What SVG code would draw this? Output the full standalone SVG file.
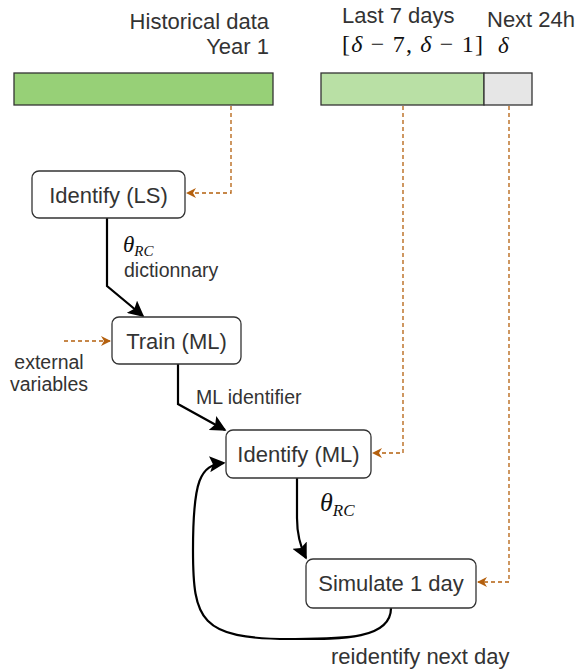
<svg xmlns="http://www.w3.org/2000/svg" width="579" height="671" viewBox="0 0 579 671">
<defs>
<style>
.t{font-family:"Liberation Sans",Arial,sans-serif;fill:#333;}
.m{font-family:"Liberation Serif","DejaVu Serif",serif;fill:#111;}
.box{fill:#fff;stroke:#333;stroke-width:1.3;}
.dash{fill:none;stroke:#B4600E;stroke-width:1.3;stroke-dasharray:4 3;}
.solid{fill:none;stroke:#000;stroke-width:2.2;}
</style>
<marker id="ob" viewBox="0 0 10 10" refX="9" refY="5" markerWidth="10" markerHeight="10" markerUnits="userSpaceOnUse" orient="auto"><path d="M0,0 L10,5 L0,10 L3,5 Z" fill="#B4600E"/></marker>
<marker id="bk" viewBox="0 0 10 10" refX="9" refY="5" markerWidth="16" markerHeight="16" markerUnits="userSpaceOnUse" orient="auto"><path d="M0,0 L10,5 L0,10 L2,5 Z" fill="#000"/></marker>
</defs>
<g id="labels-top">
<text class="t" x="269" y="29" font-size="22" text-anchor="end">Historical data</text>
<text class="t" x="269" y="54" font-size="22" text-anchor="end">Year 1</text>
<text class="t" x="342" y="23" font-size="22">Last 7 days</text>
<text class="t" x="487" y="27" font-size="22">Next 24h</text>
<text class="m" x="342" y="52" font-size="24" textLength="141" lengthAdjust="spacing">[<tspan font-style="italic">δ</tspan> − 7, <tspan font-style="italic">δ</tspan> − 1]</text>
<text class="m" x="498" y="53" font-size="23" font-style="italic">δ</text>
</g>
<g id="bar-historical"><rect x="14" y="73" width="259" height="32" fill="#97D077" stroke="#333" stroke-width="1.3"/></g>
<g id="bar-last7"><rect x="321" y="73" width="163" height="32" fill="#B9E0A5" stroke="#333" stroke-width="1.3"/></g>
<g id="bar-next24"><rect x="484" y="73" width="48" height="32" fill="#E6E6E6" stroke="#333" stroke-width="1.3"/></g>
<g id="connectors">
<path class="dash" d="M231,106 V193 H187" marker-end="url(#ob)"/>
<path class="dash" d="M64,341 H110" marker-end="url(#ob)"/>
<path class="dash" d="M403,106 V453 H373" marker-end="url(#ob)"/>
<path class="dash" d="M509,106 V582 H478" marker-end="url(#ob)"/>
<path class="solid" d="M107,218 V286 L143,316" marker-end="url(#bk)"/>
<path class="solid" d="M178,364 V404 L225,430" marker-end="url(#bk)"/>
<path class="solid" d="M297,478 V518 Q297,540 306,558" marker-end="url(#bk)"/>
<path class="solid" d="M391,608 C391,640 340,639 290,639 C200,639 193,620 193,550 C193,480 200,465 224,463" marker-end="url(#bk)"/>
<text class="m" x="123" y="252" font-size="23" font-style="italic">θ<tspan font-size="15" dy="4">RC</tspan></text>
<text class="t" x="124" y="277" font-size="19.5">dictionnary</text>
<text class="t" x="49" y="369" font-size="19.5" text-anchor="middle">external</text>
<text class="t" x="49" y="391" font-size="19.5" text-anchor="middle">variables</text>
<text class="t" x="196" y="404" font-size="19.5">ML identifier</text>
<text class="m" x="320" y="511" font-size="26" font-style="italic">θ<tspan font-size="17" dy="5">RC</tspan></text>
<text class="t" x="331" y="664" font-size="22">reidentify next day</text>
</g>
<g id="node-identify-ls"><rect class="box" x="32" y="171" width="153" height="47" rx="7"/><text class="t" x="108.5" y="203" font-size="22" text-anchor="middle">Identify (LS)</text></g>
<g id="node-train-ml"><rect class="box" x="112" y="317" width="129" height="47" rx="7"/><text class="t" x="176.5" y="349" font-size="22" text-anchor="middle">Train (ML)</text></g>
<g id="node-identify-ml"><rect class="box" x="226" y="430" width="145" height="48" rx="7"/><text class="t" x="298.5" y="462" font-size="22" text-anchor="middle">Identify (ML)</text></g>
<g id="node-simulate"><rect class="box" x="306" y="559" width="170" height="49" rx="7"/><text class="t" x="391" y="591" font-size="22" text-anchor="middle">Simulate 1 day</text></g>
</svg>
